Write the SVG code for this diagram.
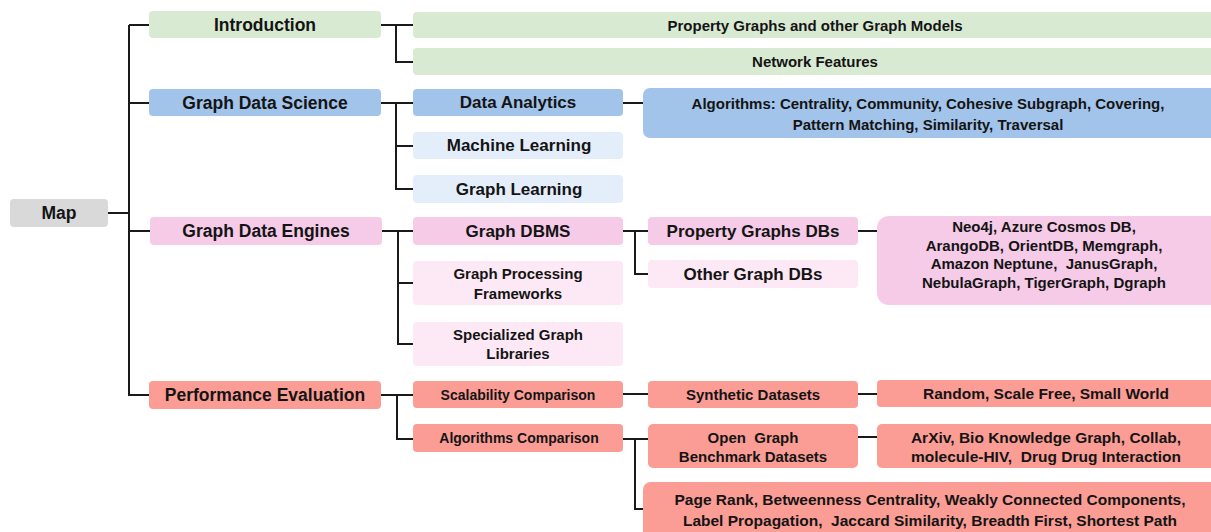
<svg xmlns="http://www.w3.org/2000/svg" width="1211" height="532" viewBox="0 0 1211 532">
<style>
text{font-family:"Liberation Sans",Arial,sans-serif;font-weight:bold;fill:#141414;text-anchor:middle;dominant-baseline:central;white-space:pre}
.l1{font-size:17.5px}
.l2{font-size:17px}
.m{font-size:15px}
.w{font-size:15.5px}
.s{font-size:14px}
.n{font-size:15px}
.c{fill:none;stroke:#1a1a1a;stroke-width:2}
.grey{fill:#d9d9d9}
.green{fill:#d9ead3}
.blue{fill:#a2c3ea}
.lblue{fill:#e4eefa}
.pink{fill:#f5cbe7}
.lpink{fill:#fde9f5}
.red{fill:#fb9d95}
</style>
<rect width="1211" height="532" fill="#ffffff"/>
<g id="connectors">
<path class="c" d="M108 213H129M129 25V396M129 25H149M129 103H149M129 231H150M128 395H149"/>
<path class="c" d="M381 25H413M396 25V62H413"/>
<path class="c" d="M381 103H413M396 103V189H413M396 146H413"/>
<path class="c" d="M382 231H413M398 231V344H413M398 283H413"/>
<path class="c" d="M381 395H413M397 395V439H413"/>
<path class="c" d="M623 103H643"/>
<path class="c" d="M623 231H648M635 231V274H648"/>
<path class="c" d="M858 231H877"/>
<path class="c" d="M623 394H648M858 394H877"/>
<path class="c" d="M623 439H648M635 439V509H643"/>
<path class="c" d="M858 437H877"/>
</g>
<g id="map"><rect class="grey" x="10" y="199" width="98" height="28" rx="4"/><text class="l1" x="59" y="213">Map</text></g>
<g id="introduction"><rect class="green" x="149" y="11" width="232" height="27" rx="4"/><text class="l1" x="265" y="24.5">Introduction</text></g>
<g id="gds"><rect class="blue" x="149" y="89" width="232" height="27" rx="4"/><text class="l1" x="265" y="102.5">Graph Data Science</text></g>
<g id="gde"><rect class="pink" x="150" y="217" width="232" height="28" rx="4"/><text class="l1" x="266" y="231">Graph Data Engines</text></g>
<g id="pe"><rect class="red" x="149" y="381" width="232" height="28" rx="4"/><text class="l1" x="265" y="395">Performance Evaluation</text></g>
<g id="pgm"><rect class="green" x="413" y="12" width="810" height="26" rx="4"/><text class="n" x="815" y="25">Property Graphs and other Graph Models</text></g>
<g id="nf"><rect class="green" x="413" y="48" width="810" height="27" rx="4"/><text class="n" x="815" y="61.5">Network Features</text></g>
<g id="da"><rect class="blue" x="413" y="89" width="210" height="27" rx="4"/><text class="l2" x="518" y="102.5">Data Analytics</text></g>
<g id="ml"><rect class="lblue" x="413" y="132" width="210" height="27" rx="4"/><text class="l2" x="519" y="145.5">Machine Learning</text></g>
<g id="gl"><rect class="lblue" x="413" y="175" width="210" height="28" rx="4"/><text class="l2" x="519" y="189">Graph Learning</text></g>
<g id="gdbms"><rect class="pink" x="413" y="217" width="210" height="28" rx="4"/><text class="l2" x="518" y="231">Graph DBMS</text></g>
<g id="gpf"><rect class="lpink" x="413" y="261" width="210" height="44" rx="4"/><text class="m" x="518" y="273">Graph Processing</text><text class="m" x="518" y="293">Frameworks</text></g>
<g id="sgl"><rect class="lpink" x="413" y="322" width="210" height="44" rx="4"/><text class="m" x="518" y="334">Specialized Graph</text><text class="m" x="518" y="353">Libraries</text></g>
<g id="scal"><rect class="red" x="413" y="381" width="210" height="27" rx="4"/><text class="s" x="518" y="394.5">Scalability Comparison</text></g>
<g id="algc"><rect class="red" x="413" y="424" width="210" height="28" rx="4"/><text class="s" x="519" y="438">Algorithms Comparison</text></g>
<g id="algorithms"><rect class="blue" x="643" y="88" width="580" height="50" rx="7"/><text class="n" x="928" y="103">Algorithms: Centrality, Community, Cohesive Subgraph, Covering,</text><text class="n" x="928" y="124">Pattern Matching, Similarity, Traversal</text></g>
<g id="pgdb"><rect class="pink" x="648" y="217" width="210" height="28" rx="4"/><text class="l2" x="753" y="231">Property Graphs DBs</text></g>
<g id="ogdb"><rect class="lpink" x="648" y="260" width="210" height="28" rx="4"/><text class="l2" x="753" y="274">Other Graph DBs</text></g>
<g id="synth"><rect class="red" x="648" y="381" width="210" height="27" rx="4"/><text class="m" x="753" y="394.5">Synthetic Datasets</text></g>
<g id="ogb"><rect class="red" x="648" y="424" width="210" height="44" rx="5"/><text class="m" x="753" y="437">Open  Graph</text><text class="m" x="753" y="456">Benchmark Datasets</text></g>
<g id="pagerank"><rect class="red" x="643" y="482" width="580" height="70" rx="8"/><text class="w" x="930" y="499">Page Rank, Betweenness Centrality, Weakly Connected Components,</text><text class="w" x="930" y="520">Label Propagation,  Jaccard Similarity, Breadth First, Shortest Path</text></g>
<g id="neo4j"><rect class="pink" x="877" y="216" width="346" height="89" rx="12"/><text class="m" x="1044" y="226">Neo4j, Azure Cosmos DB,</text><text class="m" x="1044" y="245">ArangoDB, OrientDB, Memgraph,</text><text class="m" x="1044" y="263">Amazon Neptune,  JanusGraph,</text><text class="m" x="1044" y="282">NebulaGraph, TigerGraph, Dgraph</text></g>
<g id="random"><rect class="red" x="877" y="380" width="346" height="27" rx="4"/><text class="w" x="1046" y="393">Random, Scale Free, Small World</text></g>
<g id="arxiv"><rect class="red" x="877" y="424" width="346" height="44" rx="5"/><text class="w" x="1046" y="437">ArXiv, Bio Knowledge Graph, Collab,</text><text class="w" x="1046" y="456">molecule-HIV,  Drug Drug Interaction</text></g>
</svg>
